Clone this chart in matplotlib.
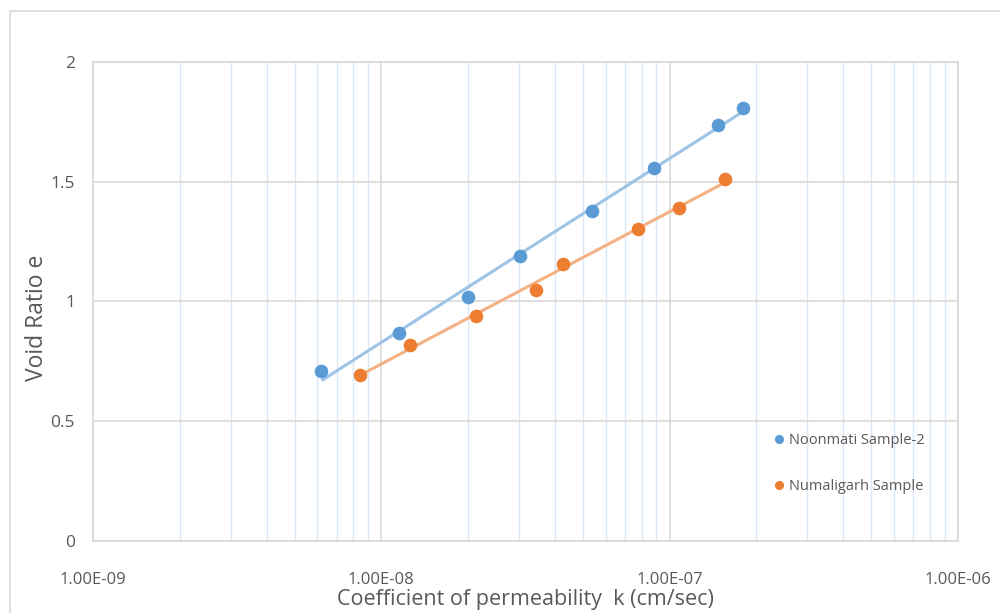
import numpy as np
import matplotlib
matplotlib.use("Agg")
import matplotlib.pyplot as plt
from matplotlib.patches import Rectangle
from matplotlib.ticker import FixedLocator, LogLocator, NullFormatter, FixedFormatter

plt.rcParams['font.family'] = ['Open Sans', 'DejaVu Sans']

# Data
noonmati_k = [6.2e-9, 1.15e-8, 1.99e-8, 3.03e-8, 5.37e-8, 8.8e-8, 1.47e-7, 1.80e-7]
noonmati_e = [0.71, 0.868, 1.019, 1.19, 1.378, 1.557, 1.737, 1.808]
numaligarh_k = [8.4e-9, 1.26e-8, 2.13e-8, 3.44e-8, 4.26e-8, 7.75e-8, 1.08e-7, 1.56e-7]
numaligarh_e = [0.693, 0.818, 0.94, 1.048, 1.157, 1.303, 1.39, 1.51]
series_names = ["Noonmati Sample-2", "Numaligarh Sample"]
x_tick_values = [1e-9, 1e-8, 1e-7, 1e-6]
x_tick_labels = ["1.00E-09", "1.00E-08", "1.00E-07", "1.00E-06"]
y_tick_values = [0, 0.5, 1, 1.5, 2]
y_tick_labels = ["0", "0.5", "1", "1.5", "2"]

blue = "#5B9BD5"
orange = "#ED7D31"
blue_line = "#9DC3E6"
orange_line = "#F4B183"
grid_gray = "#D9D9D9"
minor_blue = "#DAE8F5"
text_gray = "#595959"

fig = plt.figure(figsize=(10, 6.13), dpi=100)
fig.patches.append(Rectangle((0.010, -0.1), 1.2, 0.982 + 0.1, transform=fig.transFigure,
                             fill=False, edgecolor=grid_gray, linewidth=1.2))

ax = fig.add_axes([0.093, 0.1175, 0.865, 0.7814])
ax.set_xscale('log')
ax.set_xlim(1e-9, 1e-6)
ax.set_ylim(0, 2)

ax.xaxis.set_major_locator(FixedLocator(x_tick_values))
ax.xaxis.set_major_formatter(FixedFormatter(x_tick_labels))
ax.xaxis.set_minor_locator(LogLocator(base=10, subs=np.arange(2, 10)))
ax.xaxis.set_minor_formatter(NullFormatter())
ax.yaxis.set_major_locator(FixedLocator(y_tick_values))
ax.yaxis.set_major_formatter(FixedFormatter(y_tick_labels))

ax.grid(which='minor', axis='x', color=minor_blue, linewidth=1.0, zorder=0)
ax.grid(which='major', axis='x', color=grid_gray, linewidth=1.2, zorder=0)
ax.grid(which='major', axis='y', color=grid_gray, linewidth=1.2, zorder=0)
ax.set_axisbelow(True)

for s in ax.spines.values():
    s.set_color(grid_gray)
    s.set_linewidth(1.2)

ax.tick_params(which='both', length=0)
ax.tick_params(axis='x', pad=22, labelsize=12, labelcolor=text_gray)
ax.tick_params(axis='y', pad=13, labelsize=12.5, labelcolor=text_gray)

# Trend lines (logarithmic fit)
for ks, es, col in [(noonmati_k, noonmati_e, blue_line), (numaligarh_k, numaligarh_e, orange_line)]:
    lk = np.log10(ks)
    a, b = np.polyfit(lk, es, 1)
    xx = np.array([min(lk), max(lk)])
    ax.plot(10 ** xx, a * xx + b, color=col, linewidth=2.2, zorder=2, solid_capstyle='butt')

h1, = ax.plot(noonmati_k, noonmati_e, 'o', color=blue, markersize=8.8, zorder=3, label=series_names[0])
h2, = ax.plot(numaligarh_k, numaligarh_e, 'o', color=orange, markersize=8.8, zorder=3, label=series_names[1])

leg = ax.legend(handles=[h1, h2], loc='upper left', bbox_to_anchor=(0.761, 1 - 420 / 613),
                bbox_transform=fig.transFigure,
                frameon=False, fontsize=10.5, handlelength=0.6, handletextpad=0.4, labelspacing=2.15,
                markerscale=0.63)
for t in leg.get_texts():
    t.set_color(text_gray)

ax.set_xlabel("Coefficient of permeability  k (cm/sec)", fontsize=15.5, color=text_gray, labelpad=1)
ax.set_ylabel("Void Ratio e", fontsize=16.5, color=text_gray)
ax.yaxis.set_label_coords(-0.051, 0.466)

fig.savefig("out.png", dpi=100)
